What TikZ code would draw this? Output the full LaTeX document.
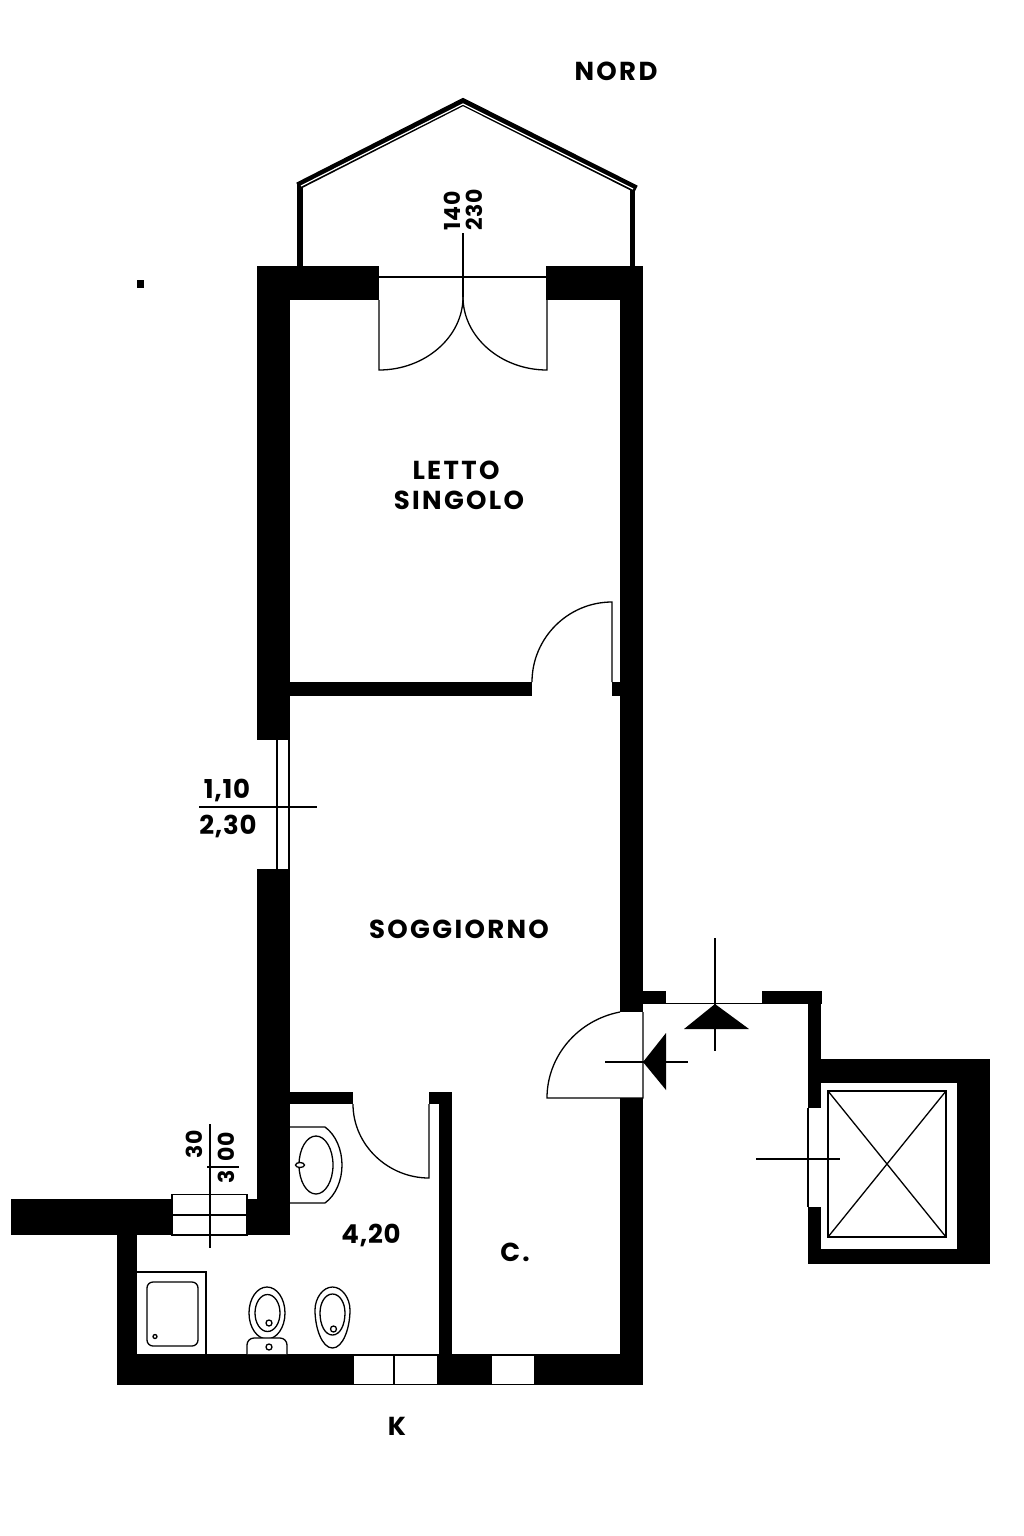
\documentclass[tikz,border=0pt]{standalone}
\usepackage{fontspec}
\setmainfont[LetterSpace=9]{Poppins}
\newfontfamily\dimfont[LetterSpace=3]{Poppins}
\begin{document}
\begin{tikzpicture}[x=1pt, y=-1pt, line join=miter,
			wall/.style={fill=black},
			thin line/.style={draw=black,line width=1.3pt},
			room label/.style={font=\fontsize{26}{28}\selectfont\bfseries,inner sep=0pt},
			dim label/.style={font=\dimfont\fontsize{26}{28}\selectfont\bfseries,inner sep=0pt},
			side label/.style={font=\dimfont\fontsize{22}{24}\selectfont\bfseries,inner sep=0pt,rotate=90}]
			
			\fill[white] (0,0) rectangle (1024,1536);
			\useasboundingbox (0,0) rectangle (1024,1536);
			
			% balcony
			\draw[line width=5.5pt] (300,266) -- (300,184);
			\draw[line width=5pt] (632,266) -- (632,187);
			\draw[line width=7.5pt] (298,186) -- (463,102) -- (636,189);
			\draw[white,line width=1.2pt] (301,186) -- (463,104) -- (633,189);
			
			% outer walls
			\fill[wall] (257,266) rectangle (379,300);
			\fill[wall] (546,266) rectangle (642,300);
			\fill[wall] (257,266) rectangle (290,740);
			\fill[wall] (257,869) rectangle (290,1235);
			\fill[wall] (620,266) rectangle (643,1012);
			\fill[wall] (620,1098) rectangle (643,1385);
			\fill[wall] (11,1199) rectangle (172,1235);
			\fill[wall] (247,1199) rectangle (290,1235);
			\fill[wall] (117,1235) rectangle (137,1385);
			\fill[wall] (117,1354) rectangle (353,1385);
			\fill[wall] (438,1354) rectangle (491,1385);
			\fill[wall] (535,1354) rectangle (643,1385);
			
			% inner walls
			\fill[wall] (290,682) rectangle (532,696);
			\fill[wall] (612,682) rectangle (620,696);
			\fill[wall] (290,1092) rectangle (353,1104);
			\fill[wall] (429,1092) rectangle (452,1104);
			\fill[wall] (439,1092) rectangle (452,1354);
			
			% landing and lift
			\fill[wall] (643,991) rectangle (666,1004);
			\fill[wall] (762,991) rectangle (822,1004);
			\fill[wall] (808,991) rectangle (821,1108);
			\fill[wall] (808,1059) rectangle (990,1083);
			\fill[wall] (957,1059) rectangle (990,1264);
			\fill[wall] (808,1249) rectangle (990,1264);
			\fill[wall] (808,1207) rectangle (821,1264);
			\draw[thin line] (808,1108) -- (808,1207);
			\draw[thin line] (828,1091) rectangle (946,1237);
			\draw[thin line] (828,1091) -- (946,1237);
			\draw[thin line] (946,1091) -- (828,1237);
			\draw[thin line] (756,1159) -- (840,1159);
			
			% balcony door
			\draw[thin line] (379,277) -- (546,277);
			\draw[thin line] (463,233) -- (463,297);
			\draw[thin line] (379,300) -- (379,370) .. controls (425,370) and (463,337) .. (463,297);
			\draw[thin line] (547,300) -- (547,370) .. controls (501,370) and (463,337) .. (463,297);
			
			% room door
			\draw[thin line] (532,682) .. controls (532,638) and (568,602) .. (612,602) -- (612,682);
			
			% window left
			\draw[thin line] (277,740) -- (277,869);
			\draw[thin line] (289,740) -- (289,869);
			\draw[thin line] (199,807) -- (317,807);
			
			% entrance
			\draw[thin line] (643,1012) -- (643,1098) -- (547,1098) .. controls (547,1056) and (578,1020) .. (620,1012);
			\fill[black] (643,1062) -- (666,1033) -- (666,1090) -- cycle;
			\draw[thin line] (605,1062) -- (688,1062);
			\draw[thin line] (666,1003.5) -- (762,1003.5);
			\fill[black] (715,1004) -- (749,1029) -- (684,1029) -- cycle;
			\draw[thin line] (715,938) -- (715,1051);
			
			% bath window and door
			\draw[thin line] (172,1194.5) rectangle (247,1235);
			\draw[thin line] (172,1215) -- (247,1215);
			\draw[thin line] (210,1124) -- (210,1248);
			\draw[thin line] (207,1167) -- (239,1167);
			\draw[thin line] (353,1104) .. controls (353,1145) and (388,1178) .. (429,1178) -- (429,1104);
			
			% bottom windows
			\draw[thin line] (353,1355) rectangle (438,1384.5);
			\draw[thin line] (394,1354) -- (394,1385);
			\draw[thin line] (491,1355) rectangle (535,1384.5);
			
			% fixtures
			\draw[thin line] (290,1127) -- (325,1127) .. controls (336,1135) and (342,1150) .. (342,1165) .. controls (342,1180) and (336,1195) .. (325,1203) -- (290,1203);
			\draw[thin line] (316,1165) ellipse (17 and 29);
			\draw[thin line,fill=white] (300,1165) ellipse (4.5 and 2.5);
			\draw[thin line] (137,1272) -- (206,1272) -- (206,1354);
			\draw[thin line,rounded corners=6pt] (147,1282) rectangle (198,1346);
			\draw[thin line] (155,1336.5) circle (2);
			\draw[thin line] (267,1313) ellipse (18 and 26);
			\draw[thin line] (267.5,1313) ellipse (12.5 and 18.5);
			\draw[thin line] (269,1323) circle (3);
			\draw[thin line,fill=white,rounded corners=7pt] (247,1354) -- (247,1338) -- (287,1338) -- (287,1354);
			\draw[thin line] (269,1347) circle (3);
			\draw[thin line] (332.5,1287) .. controls (342,1287) and (350,1298) .. (350,1310) .. controls (350,1328) and (343,1348) .. (332.5,1348) .. controls (322,1348) and (315,1328) .. (315,1310) .. controls (315,1298) and (323,1287) .. (332.5,1287) -- cycle;
			\draw[thin line] (332.5,1294) .. controls (340,1294) and (345,1303) .. (345,1313) .. controls (345,1325) and (340,1335) .. (332.5,1335) .. controls (325,1335) and (320,1325) .. (320,1313) .. controls (320,1303) and (325,1294) .. (332.5,1294) -- cycle;
			\draw[thin line] (333.5,1329) circle (3);
			
			% stray mark
			\fill[black] (137,280) rectangle (144,288);
			
			% labels
			\node[room label] (nord) at (616,71) {NORD};
			\node[room label] (letto) at (456,470) {LETTO};
			\node[room label] (singolo) at (459,500) {SINGOLO};
			\node[room label] (soggiorno) at (459,929) {SOGGIORNO};
			\node[dim label] (area) at (371,1235) {4,20};
			\node[room label] (c) at (515,1252) {C.};
			\node[room label] (k) at (397,1426) {K};
			\node[dim label] (h1) at (227,790) {1,10};
			\node[dim label] (w1) at (228,826) {2,30};
			\node[side label] (h2) at (452,211) {140};
			\node[side label] (w2) at (474,210) {230};
			\node[side label] (h3) at (194,1144) {30};
			\node[side label] (w3) at (226,1158) {3\hspace{9pt}00};
			\end{tikzpicture}
\end{document}
